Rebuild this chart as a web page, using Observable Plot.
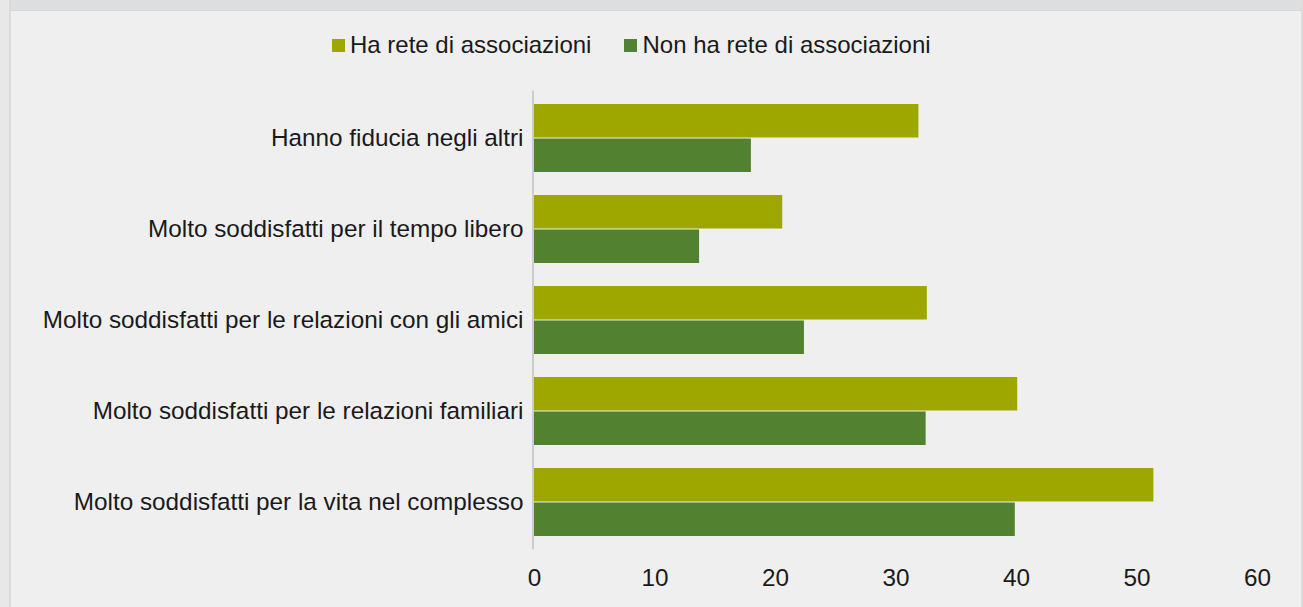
<!DOCTYPE html>
<html>
<head>
<meta charset="utf-8">
<script src="https://cdn.jsdelivr.net/npm/d3@7"></script>
<script src="https://cdn.jsdelivr.net/npm/@observablehq/plot@0.6"></script>
<style>
  html, body { margin: 0; padding: 0; }
  body { width: 1303px; height: 607px; overflow: hidden; background: #efefef; position: relative;
         font-family: Arial, "Liberation Sans", sans-serif; }
  #topband { position: absolute; left: 0; top: 0; width: 1303px; height: 10px; background: #dcdfe2; border-bottom: 1px solid #d5d8db; }
  #leftband { position: absolute; left: 0; top: 0; width: 9px; height: 607px; background: #e8e8e8; border-right: 2px solid #dadada; }
  #rightline { position: absolute; left: 1301px; top: 0; width: 2px; height: 607px; background: #dcdcdc; }
  #head { height: 70px; position: relative; }
  #legend { position: absolute; left: 332px; top: 33px; display: flex; align-items: center; font-size: 24px; line-height: 24px; color: #1a1a1a; }
  .item { display: flex; align-items: center; margin-right: 33px; }
  .sw { width: 13px; height: 13px; margin-right: 5px; }
  #chart { position: relative; }
  #chart svg { display: block; }
</style>
</head>
<body>
<div id="topband"></div>
<div id="leftband"></div>
<div id="rightline"></div>
<div id="head"><div id="legend"></div></div>
<div id="chart"></div>
<script>
const categories = [
  "Hanno fiducia negli altri",
  "Molto soddisfatti per il tempo libero",
  "Molto soddisfatti per le relazioni con gli amici",
  "Molto soddisfatti per le relazioni familiari",
  "Molto soddisfatti per la vita nel complesso"
];
const seriesNames = ["Ha rete di associazioni", "Non ha rete di associazioni"];
const haRete = [31.9, 20.6, 32.6, 40.1, 51.4];
const nonHaRete = [18.0, 13.7, 22.4, 32.5, 39.9];
const xTicks = [0, 10, 20, 30, 40, 50, 60];
const colors = ["#9ea700", "#528130"];

const rowsA = categories.map((c, i) => ({category: c, value: haRete[i]}));
const rowsB = categories.map((c, i) => ({category: c, value: nonHaRete[i]}));

// legend
const legend = document.getElementById("legend");
seriesNames.forEach((s, i) => {
  const it = document.createElement("div");
  it.className = "item";
  const sw = document.createElement("div");
  sw.className = "sw";
  sw.style.background = colors[i];
  const t = document.createElement("span");
  t.textContent = s;
  it.appendChild(sw); it.appendChild(t);
  legend.appendChild(it);
});

const half = 34.5;
const plot = Plot.plot({
  width: 1303,
  height: 537,
  marginLeft: 534,
  marginRight: 46,
  marginTop: 20.4,
  marginBottom: 57.8,
  style: {background: "transparent", fontFamily: "Arial, 'Liberation Sans', sans-serif", fontSize: "24.3px", color: "#1a1a1a", overflow: "visible"},
  x: {domain: [0, 60], ticks: xTicks, tickSize: 0, tickPadding: 19, label: null},
  y: {domain: categories, paddingInner: 0.248, paddingOuter: 0.124, tickSize: 0, tickPadding: 11, label: null},
  marks: [
    Plot.ruleX([0], {stroke: "#cccccc", strokeWidth: 2, dx: -1.5}),
    Plot.barX(rowsA, {x: "value", y: "category", fill: colors[0], insetBottom: half, insetTop: 0}),
    Plot.barX(rowsB, {x: "value", y: "category", fill: colors[1], insetTop: half, insetBottom: 0})
  ]
});
document.getElementById("chart").appendChild(plot);
</script>
</body>
</html>
